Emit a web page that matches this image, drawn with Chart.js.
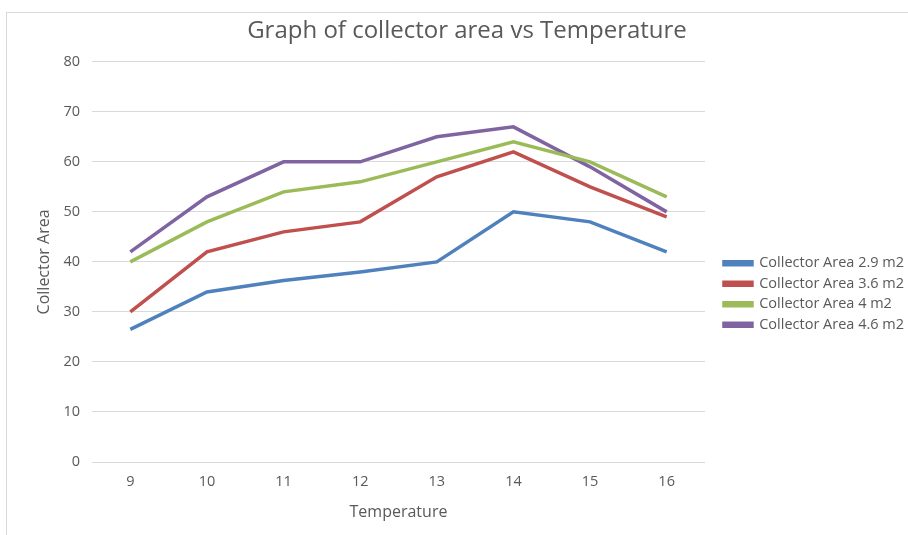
<!DOCTYPE html>
<html>
<head>
<meta charset="utf-8">
<script src="https://cdn.jsdelivr.net/npm/chart.js@4"></script>
<style>
  body { margin: 0; background: #fff; }
  .wrap { position: relative; width: 908px; height: 535px; overflow: hidden; }
  .frame { position: absolute; left: 6px; top: 12px; width: 960px; height: 600px; border: 1px solid #d9d9d9; }
  canvas { position: absolute; left: 0; top: 0; }
</style>
</head>
<body>
<div class="wrap">
  <div class="frame"></div>
  <canvas id="myChart" width="908" height="535"></canvas>
</div>
<script>
// temperatures on the x axis
const temperatures = ['9', '10', '11', '12', '13', '14', '15', '16'];

// collector area readings for each panel size
const area29 = [26.5, 34, 36.3, 38, 40, 50, 48, 42];
const area36 = [30, 42, 46, 48, 57, 62, 55, 49];
const area40 = [40, 48, 54, 56, 60, 64, 60, 53];
const area46 = [42, 53, 60, 60, 65, 67, 59, 50];

const seriesNames = ['Collector Area 2.9 m2', 'Collector Area 3.6 m2', 'Collector Area 4 m2', 'Collector Area 4.6 m2'];
const seriesColors = ['#4F81BD', '#C0504D', '#9BBB59', '#8064A2'];

const fontFamily = "'Open Sans', sans-serif";
const grey = '#595959';
const gridGrey = '#d9d9d9';

const allSeries = [area29, area36, area40, area46];

// legend sits a bit away from the plot and lower than chart.js centres it
const legendExtra = 3;
const legendGap = 13;
const legendDrop = 23;
const legendNudge = {
  id: 'legendNudge',
  beforeLayout(chart) {
    const leg = chart.legend;
    if (leg && !leg._widened) {
      const fit = leg.fit;
      leg.fit = function () {
        fit.call(this);
        this.width += legendExtra;
      };
      leg._widened = true;
    }
  },
  afterLayout(chart) {
    const leg = chart.legend;
    leg.left = chart.chartArea.right + legendGap;
    leg.top += legendDrop;
    leg.bottom += legendDrop;
  }
};

const ctx = document.getElementById('myChart');
new Chart(ctx, {
  type: 'line',
  data: {
    labels: temperatures,
    datasets: allSeries.map((vals, i) => ({
      label: seriesNames[i],
      data: vals,
      borderColor: seriesColors[i],
      backgroundColor: seriesColors[i],
      borderWidth: 3.5,
      pointRadius: 0,
      tension: 0,
      fill: false
    }))
  },
  options: {
    responsive: false,
    animation: false,
    layout: {
      padding: { top: 12, left: 30, right: 4, bottom: 5 }
    },
    scales: {
      x: {
        offset: true,
        grid: { display: false, drawTicks: false },
        border: { display: true, color: gridGrey, width: 1 },
        ticks: { color: grey, padding: 11, font: { family: fontFamily, size: 14.5 } },
        title: {
          display: true,
          text: 'Temperature',
          color: grey,
          padding: { top: 4, bottom: 8 },
          font: { family: fontFamily, size: 16 }
        },
        afterFit: (scale) => { scale.height = 68; }
      },
      y: {
        min: 0,
        max: 80,
        ticks: { stepSize: 10, color: grey, padding: 12, font: { family: fontFamily, size: 14.5 } },
        grid: { color: gridGrey, drawTicks: false },
        border: { display: false },
        title: {
          display: true,
          text: 'Collector Area',
          color: grey,
          padding: { top: 5, bottom: 4 },
          font: { family: fontFamily, size: 16 }
        },
        afterFit: (scale) => { scale.width = 62; }
      }
    },
    plugins: {
      title: {
        display: true,
        text: 'Graph of collector area vs Temperature',
        color: grey,
        padding: { top: 5, bottom: 16 },
        font: { family: fontFamily, size: 24, weight: 'normal' }
      },
      legend: {
        position: 'right',
        labels: {
          color: grey,
          boxWidth: 28,
          boxHeight: 3,
          padding: 6,
          font: { family: fontFamily, size: 14.5 }
        }
      },
      tooltip: { enabled: false }
    }
  },
  plugins: [legendNudge]
});
</script>
</body>
</html>
